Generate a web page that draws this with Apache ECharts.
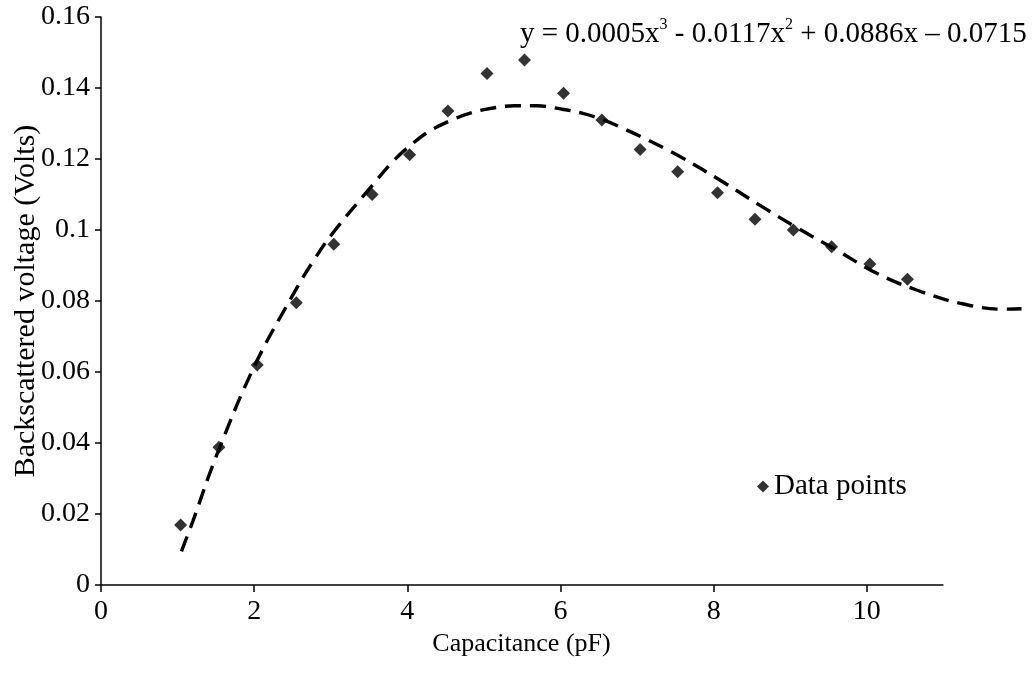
<!DOCTYPE html>
<html>
<head>
<meta charset="utf-8">
<script src="https://cdn.jsdelivr.net/npm/echarts@6/dist/echarts.min.js"></script>
<style>
html,body{margin:0;padding:0;background:#fff;}
#chart{width:1035px;height:682px;}
</style>
</head>
<body>
<div id="chart"></div>
<script>
// Measured data points (Capacitance pF, Backscattered voltage V)
const pointX = [1.04, 1.54, 2.04, 2.55, 3.04, 3.54, 4.03, 4.53, 5.04, 5.53, 6.04, 6.54, 7.04, 7.53, 8.05, 8.54, 9.04, 9.54, 10.04, 10.53];
const pointY = [0.0169, 0.0388, 0.062, 0.0795, 0.096, 0.110, 0.1212, 0.1335, 0.1441, 0.1479, 0.1385, 0.131, 0.1227, 0.1164, 0.1105, 0.103, 0.100, 0.0953, 0.0904, 0.0861];

// Trend curve
const curveX = [1.05, 1.2, 1.5, 2.0, 2.5, 2.77, 3.04, 3.54, 3.82, 4.06, 4.3, 4.56, 4.82, 5.1, 5.4, 5.69, 6.0, 6.28, 6.56, 6.82, 7.1, 7.36, 7.56, 8.08, 8.6, 9.1, 9.6, 10.13, 10.65, 11.21, 11.78, 12.02];
const curveY = [0.0095, 0.018, 0.036, 0.0615, 0.0815, 0.0912, 0.0995, 0.1125, 0.1195, 0.1242, 0.128, 0.1308, 0.1329, 0.1343, 0.135, 0.135, 0.1341, 0.1329, 0.131, 0.1286, 0.1258, 0.123, 0.1207, 0.1141, 0.107, 0.1005, 0.0944, 0.0878, 0.0831, 0.0794, 0.0777, 0.0778];

const xTicks = [0, 2, 4, 6, 8, 10];
const xAxisEnd = 11;
const yTicks = [0, 0.02, 0.04, 0.06, 0.08, 0.1, 0.12, 0.14, 0.16];

const seriesName = 'Data points';
const equationParts = ['y = 0.0005x', '3', ' - 0.0117x', '2', ' + 0.0886x \u2013 0.0715'];
const xTitle = 'Capacitance (pF)';
const yTitle = 'Backscattered voltage (Volts)';

const FONT = '"Liberation Serif", "Times New Roman", serif';

const chart = echarts.init(document.getElementById('chart'), null, {renderer: 'canvas'});
chart.setOption({
  backgroundColor: '#ffffff',
  animation: false,
  textStyle: {fontFamily: FONT, color: '#000'},
  title: {
    text: '{n|' + equationParts[0] + '}{s|' + equationParts[1] + '}{n|' + equationParts[2] + '}{s|' + equationParts[3] + '}{n|' + equationParts[4] + '}',
    left: 515, top: 12,
    textStyle: {
      fontWeight: 'normal',
      rich: {
        n: {fontFamily: FONT, fontSize: 29, fontWeight: 'normal', color: '#000', verticalAlign: 'bottom', lineHeight: 32},
        s: {fontFamily: FONT, fontSize: 16, fontWeight: 'normal', color: '#000', verticalAlign: 'top', lineHeight: 32, padding: [0, 0, 13, 0]}
      }
    }
  },
  legend: {
    data: [seriesName],
    left: 752, top: 467,
    icon: 'diamond',
    itemWidth: 12, itemHeight: 12, itemGap: 4,
    textStyle: {fontFamily: FONT, fontSize: 29, color: '#000'}
  },
  grid: {left: 101, right: 15, top: 17, bottom: 97, containLabel: false, outerBoundsMode: 'none'},
  xAxis: {
    type: 'value', min: 0, max: 12, interval: 2,
    name: xTitle, nameLocation: 'middle', nameGap: 43,
    nameTextStyle: {fontFamily: FONT, fontSize: 26, color: '#000', align: 'center', padding: [0, 78, 0, 0]},
    axisLine: {show: false},
    axisTick: {show: true, inside: false, length: 7, customValues: xTicks, lineStyle: {color: '#000', width: 1.5}},
    axisLabel: {show: true, margin: 13, customValues: xTicks, fontFamily: FONT, fontSize: 28, color: '#000'},
    splitLine: {show: false}
  },
  yAxis: {
    type: 'value', min: 0, max: 0.16, interval: 0.02,
    name: yTitle, nameLocation: 'middle', nameGap: 60, nameRotate: 90, nameMoveOverlap: false,
    nameTextStyle: {fontFamily: FONT, fontSize: 30, color: '#000'},
    axisLine: {show: true, onZero: false, lineStyle: {color: '#000', width: 1.5}},
    axisTick: {show: true, inside: false, length: 6, customValues: yTicks, lineStyle: {color: '#000', width: 1.5}},
    axisLabel: {show: true, margin: 11, customValues: yTicks, fontFamily: FONT, fontSize: 28, color: '#000',
      formatter: v => String(parseFloat(Number(v).toFixed(2)))},
    splitLine: {show: false}
  },
  series: [
    {
      name: 'Trend',
      type: 'line',
      data: curveX.map((x, i) => [x, curveY[i]]),
      smooth: 0.4,
      showSymbol: false,
      lineStyle: {color: '#000', width: 3.4, type: [16, 9]},
      z: 2
    },
    {
      name: seriesName,
      type: 'scatter',
      data: pointX.map((x, i) => [x, pointY[i]]),
      symbol: 'diamond',
      symbolSize: 13,
      itemStyle: {color: '#000'},
      z: 3,
      markLine: {
        silent: true,
        symbol: ['none', 'none'],
        label: {show: false},
        lineStyle: {color: '#000', width: 1.5, type: 'solid'},
        data: [[{coord: [0, 0]}, {coord: [xAxisEnd, 0]}]]
      }
    }
  ]
});
</script>
</body>
</html>
